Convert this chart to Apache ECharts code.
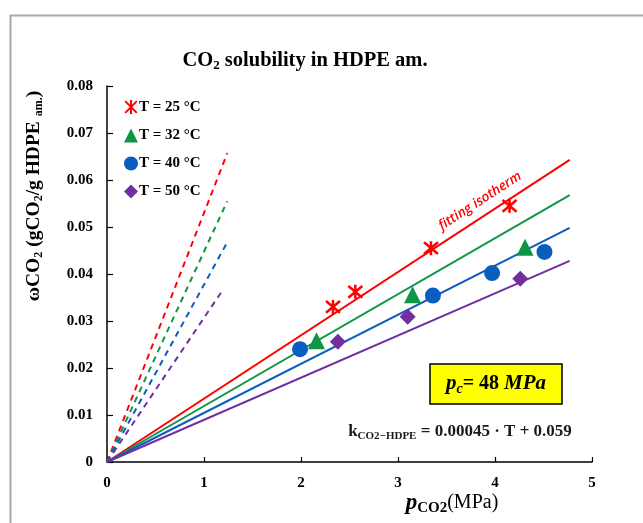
<!DOCTYPE html>
<html>
<head>
<meta charset="utf-8">
<title>CO2 solubility in HDPE am.</title>
<script src="https://cdn.jsdelivr.net/npm/echarts@6/dist/echarts.min.js"></script>
<style>
  html, body { margin: 0; padding: 0; background: #fff; }
  #chart { width: 643px; height: 523px; }
</style>
</head>
<body>
<div id="chart"></div>
<script>
// measured points: [p (MPa), w (g/g)]
var names = ['T = 25 °C', 'T = 32 °C', 'T = 40 °C', 'T = 50 °C']
var colors = ['#FF0000', '#0E9645', '#0A5EC0', '#7030A0']
var pts25 = [[2.33, 0.0330], [2.56, 0.0362], [3.34, 0.0455], [4.15, 0.0545]]
var pts32 = [[2.16, 0.0258], [3.15, 0.0356], [4.31, 0.0457]]
var pts40 = [[1.99, 0.0240], [3.36, 0.0354], [3.97, 0.0402], [4.51, 0.0447]]
var pts50 = [[2.38, 0.0256], [3.10, 0.0309], [4.26, 0.0390]]
// fitting isotherm end points (start at origin)
var fitEnd = [[4.77, 0.0643], [4.77, 0.0568], [4.77, 0.0498], [4.77, 0.0428]]
// dashed lines end points (start at origin)
var dashEnd = [[1.24, 0.0657], [1.24, 0.0555], [1.23, 0.0464], [1.20, 0.0368]]
var xTicks = [0, 1, 2, 3, 4, 5]

var serif = '"Liberation Serif", "Times New Roman", serif'
var starPath = 'path://M0,0L10,10M10,0L0,10M5,-1L5,11'

var chart = echarts.init(document.getElementById('chart'))

var series = []
fitEnd.forEach(function (e, i) {
    series.push({
        type: 'line', name: 'fit' + i, silent: true, symbol: 'none',
        lineStyle: { color: colors[i], width: 2 },
        data: [[0, 0], e], z: 2
    })
})
dashEnd.forEach(function (e, i) {
    series.push({
        type: 'line', name: 'dash' + i, silent: true, symbol: 'none',
        lineStyle: { color: colors[i], width: 2, type: [6, 5] },
        data: [[0, 0], e], z: 2
    })
})
series.push({
    type: 'scatter', name: names[0], data: pts25, symbol: starPath, symbolSize: 14,
    itemStyle: { color: colors[0], borderColor: colors[0], borderWidth: 2.5, opacity: 1 }, z: 5
})
series.push({
    type: 'scatter', name: names[1], data: pts32, symbol: 'triangle', symbolSize: 17,
    itemStyle: { color: colors[1], opacity: 1 }, z: 5
})
series.push({
    type: 'scatter', name: names[2], data: pts40, symbol: 'circle', symbolSize: 16,
    itemStyle: { color: colors[2], opacity: 1 }, z: 5
})
series.push({
    type: 'scatter', name: names[3], data: pts50, symbol: 'diamond', symbolSize: 16,
    itemStyle: { color: colors[3], opacity: 1 }, z: 5
})

chart.setOption({
    animation: false,
    title: {
        text: 'CO{sub|2} solubility in HDPE am.',
        left: 300, top: 44, textAlign: 'center',
        textStyle: {
            fontFamily: serif, fontWeight: 'bold', fontSize: 20.5, color: '#000',
            rich: { sub: { fontFamily: serif, fontWeight: 'bold', fontSize: 13, padding: [10, 0, 0, 0] } }
        }
    },
    legend: {
        data: names, orient: 'vertical', left: 119, top: 94, itemGap: 13,
        itemWidth: 14, itemHeight: 14,
        textStyle: { fontFamily: serif, fontWeight: 'bold', fontSize: 15, color: '#000', padding: [0, 0, 0, -4] }
    },
    grid: { left: 107, right: 51, top: 86, bottom: 61 },
    xAxis: {
        type: 'value', min: 0, max: 5, interval: 1,
        axisLine: { lineStyle: { color: '#000', width: 1.5 } },
        axisTick: { inside: true, length: 5, lineStyle: { color: '#000', width: 1.2 } },
        splitLine: { show: false },
        axisLabel: {
            margin: 14, fontFamily: serif, fontWeight: 'bold', fontSize: 15, color: '#000',
            formatter: function (v) { return xTicks.indexOf(v) >= 0 ? String(v) : '' }
        }
    },
    yAxis: {
        type: 'value', min: 0, max: 0.08, interval: 0.01,
        axisLine: { show: true, lineStyle: { color: '#000', width: 1.5 } },
        axisTick: { show: true, inside: true, length: 6, lineStyle: { color: '#000', width: 1.2 } },
        splitLine: { show: false },
        axisLabel: {
            margin: 14, fontFamily: serif, fontWeight: 'bold', fontSize: 15, color: '#000',
            formatter: function (v) { return v === 0 ? '0' : v.toFixed(2) }
        }
    },
    graphic: [
        {
            type: 'rect', left: 8, top: 13, z: -1, silent: true,
            shape: { width: 700, height: 600 },
            style: { fill: 'none', stroke: '#A8A8A8', lineWidth: 2 }
        },
        {
            type: 'text', x: 34, y: 196, rotation: Math.PI / 2, silent: true,
            style: {
                text: 'ωCO{s|2} (gCO{s|2}/g HDPE {s|am.})',
                align: 'center', verticalAlign: 'middle',
                font: 'bold 19.5px ' + serif, fill: '#000',
                rich: { s: { font: 'bold 12px ' + serif, padding: [9, 0, 0, 0] } }
            }
        },
        {
            type: 'text', x: 452, y: 503, silent: true,
            style: {
                text: '{p|p}{s|CO2}{r|(MPa)}',
                align: 'center', verticalAlign: 'middle', fill: '#000',
                rich: {
                    p: { font: 'italic bold 23px ' + serif },
                    s: { font: 'bold 15px ' + serif, padding: [10, 0, 0, 0] },
                    r: { font: '20px ' + serif }
                }
            }
        },
        {
            type: 'rect', x: 430, y: 364, silent: true,
            shape: { width: 132, height: 40 },
            style: { fill: '#FFFF00', stroke: '#000', lineWidth: 1.5 }
        },
        {
            type: 'text', x: 496, y: 384, silent: true,
            style: {
                text: '{i|p}{c|c}{b|= 48 }{i|MPa}',
                align: 'center', verticalAlign: 'middle', fill: '#000',
                rich: {
                    i: { font: 'italic bold 21px ' + serif },
                    c: { font: 'italic bold 14px ' + serif, padding: [10, 0, 0, 0] },
                    b: { font: 'bold 20px ' + serif }
                }
            }
        },
        {
            type: 'text', x: 460, y: 432, silent: true,
            style: {
                text: 'k{s|CO2−HDPE} = 0.00045 · T + 0.059',
                align: 'center', verticalAlign: 'middle', fill: '#1a1a1a',
                font: 'bold 17px ' + serif,
                rich: { s: { font: 'bold 11px ' + serif, padding: [9, 0, 0, 0] } }
            }
        },
        {
            type: 'text', x: 480, y: 201, rotation: 33 * Math.PI / 180, silent: true,
            style: {
                text: 'fitting isotherm',
                align: 'center', verticalAlign: 'middle', fill: '#FF0000',
                font: 'italic 600 13.5px "Open Sans", "Liberation Sans", sans-serif'
            }
        }
    ],
    series: series
})
</script>
</body>
</html>
